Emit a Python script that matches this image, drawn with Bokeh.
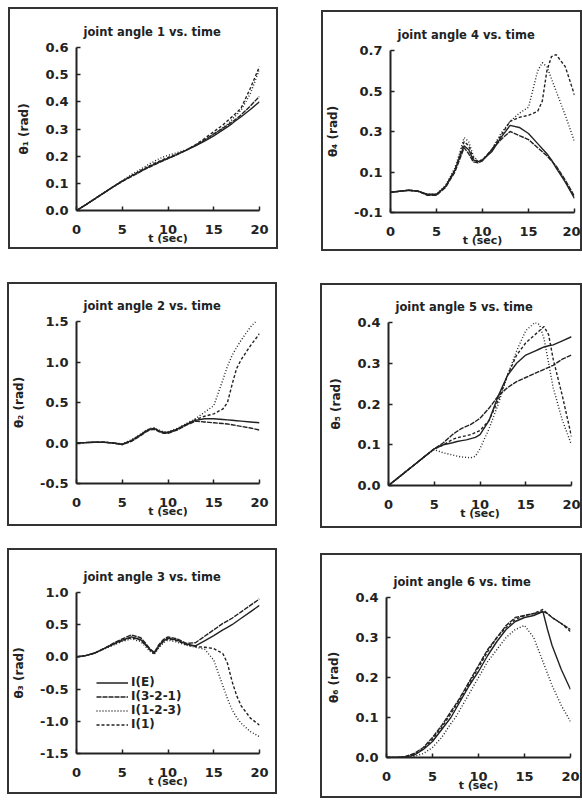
from bokeh.plotting import figure
from bokeh.layouts import row, column
from bokeh.models import Range1d, FixedTicker, NumeralTickFormatter, ColumnDataSource
from bokeh.embed import file_html
from bokeh.resources import INLINE

# ---------------- data ----------------
t = [0, 1, 2, 3, 4, 5, 6, 7, 7.5, 8, 8.5, 9, 9.5, 10, 11, 12, 13, 14, 15, 16, 16.5, 17, 17.5, 18, 19, 20]
series_names = ["I(E)", "I(3-2-1)", "I(1-2-3)", "I(1)"]
x_ticks = [0, 5, 10, 15, 20]

th1_E   = [0, .021, .043, .065, .087, .108, .127, .145, .153, .162, .170, .178, .185, .192, .207, .222, .238, .255, .275, .297, .308, .320, .333, .345, .372, .400]
th1_321 = [0, .021, .043, .065, .087, .107, .125, .143, .152, .160, .168, .176, .184, .191, .206, .222, .240, .260, .282, .303, .314, .326, .338, .352, .385, .420]
th1_123 = [0, .022, .044, .066, .088, .110, .132, .152, .162, .172, .181, .190, .197, .203, .213, .224, .240, .258, .280, .305, .318, .335, .352, .370, .430, .520]
th1_1   = [0, .021, .043, .065, .087, .108, .128, .147, .156, .165, .173, .181, .188, .195, .208, .222, .242, .265, .290, .315, .330, .345, .360, .378, .450, .530]

th2_E   = [0, .005, .01, .01, .0, -.015, .03, .10, .14, .17, .18, .15, .13, .13, .17, .23, .28, .30, .30, .29, .285, .28, .275, .27, .26, .25]
th2_321 = [0, .005, .01, .01, .0, -.02, .02, .09, .13, .16, .17, .14, .12, .12, .16, .22, .27, .26, .25, .24, .235, .225, .215, .205, .185, .16]
th2_123 = [0, .005, .01, .01, .0, -.01, .04, .11, .15, .18, .185, .16, .14, .14, .18, .24, .30, .38, .46, .78, .95, 1.08, 1.18, 1.27, 1.43, 1.55]
th2_1   = [0, .005, .01, .01, .0, -.02, .03, .10, .14, .17, .18, .15, .13, .13, .17, .23, .29, .33, .36, .42, .50, .72, .92, 1.03, 1.20, 1.35]

th3_E   = [0, .02, .06, .13, .20, .26, .31, .27, .20, .12, .06, .17, .25, .29, .26, .20, .17, .25, .33, .42, .46, .50, .55, .60, .70, .80]
th3_321 = [0, .02, .06, .13, .21, .28, .34, .30, .22, .13, .07, .19, .27, .31, .28, .21, .22, .32, .42, .52, .56, .60, .65, .70, .80, .90]
th3_123 = [0, .02, .06, .12, .18, .24, .28, .24, .17, .09, .04, .14, .22, .26, .23, .18, .15, .12, -.05, -.45, -.65, -.82, -.94, -1.03, -1.16, -1.24]
th3_1   = [0, .02, .06, .13, .19, .25, .30, .26, .19, .11, .05, .16, .24, .28, .25, .19, .16, .15, .13, .05, -.10, -.38, -.60, -.76, -.95, -1.06]

th4_E   = [0, .005, .01, .005, -.01, -.01, .03, .11, .17, .23, .21, .16, .15, .16, .20, .27, .33, .32, .29, .24, .215, .19, .16, .12, .05, -.03]
th4_321 = [0, .005, .01, .005, -.015, -.015, .025, .10, .16, .22, .19, .15, .145, .155, .21, .26, .30, .28, .26, .22, .20, .18, .155, .13, .06, -.02]
th4_123 = [0, .005, .01, .005, -.01, -.01, .035, .12, .19, .27, .25, .18, .155, .16, .21, .29, .35, .39, .42, .60, .64, .62, .56, .50, .38, .25]
th4_1   = [0, .005, .01, .005, -.012, -.012, .03, .11, .18, .25, .23, .17, .15, .16, .21, .28, .35, .37, .38, .40, .45, .60, .67, .68, .62, .48]

th5_E   = [0, .018, .036, .054, .072, .09, .10, .105, .108, .11, .112, .115, .118, .125, .16, .22, .27, .30, .32, .33, .335, .34, .343, .345, .355, .365]
th5_321 = [0, .018, .036, .054, .072, .09, .105, .125, .133, .14, .145, .15, .157, .165, .19, .22, .24, .255, .265, .275, .28, .285, .29, .295, .31, .32]
th5_123 = [0, .018, .036, .054, .072, .088, .08, .075, .072, .07, .069, .068, .072, .09, .14, .20, .27, .33, .38, .40, .395, .36, .30, .24, .16, .10]
th5_1   = [0, .018, .036, .054, .072, .09, .10, .113, .117, .12, .122, .125, .13, .135, .16, .21, .27, .32, .35, .37, .38, .39, .37, .31, .22, .12]

th6_E   = [0, 0, .001, .006, .02, .04, .07, .10, .12, .14, .16, .18, .198, .215, .255, .29, .32, .34, .35, .355, .36, .365, .32, .28, .22, .17]
th6_321 = [0, 0, .002, .01, .025, .05, .08, .115, .132, .15, .17, .19, .21, .23, .27, .30, .33, .35, .355, .36, .362, .365, .36, .35, .335, .32]
th6_123 = [0, 0, .0, .003, .01, .025, .05, .085, .10, .12, .14, .16, .18, .20, .24, .27, .30, .32, .33, .30, .27, .24, .21, .18, .13, .09]
th6_1   = [0, 0, .002, .008, .022, .045, .075, .11, .127, .145, .165, .185, .205, .225, .265, .30, .325, .345, .355, .36, .365, .37, .36, .35, .335, .315]

y_ticks_1 = [0.0, 0.1, 0.2, 0.3, 0.4, 0.5, 0.6]
y_ticks_2 = [-0.5, 0.0, 0.5, 1.0, 1.5]
y_ticks_3 = [-1.5, -1.0, -0.5, 0.0, 0.5, 1.0]
y_ticks_4 = [-0.1, 0.1, 0.3, 0.5, 0.7]
y_ticks_5 = [0.0, 0.1, 0.2, 0.3, 0.4]
y_ticks_6 = [0.0, 0.1, 0.2, 0.3, 0.4]

# ---------------- styling ----------------
INK = "#222222"
DASHES = ["solid", "5 1", "1 2", "3 2"]
FONT = "DejaVu Sans"
BW = 2


def panel(title, ylab, ylim, yticks, ys, box, frame, row_top, prev_right, legend=False):
    # box = outer edge of the drawn panel outline; element sits inside it
    bx0, by0, bx1, by1 = box
    fx0, fy0, fx1, fy1 = frame
    ex0, ey0, ex1, ey1 = bx0 + BW, by0 + BW, bx1 - BW, by1 - BW
    W, H = ex1 - ex0, ey1 - ey0
    p = figure(width=W, height=H, title=title,
               x_range=Range1d(0, 20), y_range=Range1d(*ylim),
               output_backend="svg", toolbar_location=None,
               min_border_left=fx0 - ex0, min_border_right=ex1 - fx1,
               min_border_top=fy0 - ey0, min_border_bottom=ey1 - fy1,
               margin=(ey0 - row_top, 0, 0, ex0 - prev_right))
    p.styles = {"outline": f"{BW}px solid #333"}
    p.outline_line_color = None
    p.grid.visible = False
    p.background_fill_color = "white"
    p.border_fill_color = "white"

    p.title.align = "left"
    p.title.offset = 7
    p.title.standoff = 18
    p.title.text_font = FONT
    p.title.text_font_size = "11.5px"
    p.title.text_font_style = "bold"
    p.title.text_color = INK

    src = ColumnDataSource(dict(t=t, a=ys[0], b=ys[1], c=ys[2], d=ys[3]))
    for col, dash, name in zip("abcd", DASHES, series_names):
        kw = dict(legend_label=name) if legend else {}
        p.line("t", col, source=src, line_color=INK, line_width=1.4, line_dash=dash, **kw)

    for ax in (p.xaxis[0], p.yaxis[0]):
        ax.axis_line_color = INK
        ax.axis_line_width = 2
        ax.major_tick_line_color = INK
        ax.major_tick_line_width = 1.5
        ax.major_tick_in = 4
        ax.major_tick_out = 0
        ax.minor_tick_line_color = None
        ax.major_label_text_font = FONT
        ax.major_label_text_font_size = "13px"
        ax.major_label_text_font_style = "bold"
        ax.major_label_text_color = INK
        ax.axis_label_text_font = FONT
        ax.axis_label_text_font_style = "bold"
        ax.axis_label_text_color = INK

    p.xaxis.ticker = FixedTicker(ticks=x_ticks)
    p.xaxis.formatter = NumeralTickFormatter(format="0")
    p.xaxis.axis_label = "t (sec)"
    p.xaxis.axis_label_text_font_size = "11px"
    p.xaxis.major_label_standoff = 14
    p.xaxis.axis_label_standoff = -5

    p.yaxis.ticker = FixedTicker(ticks=yticks)
    p.yaxis.formatter = NumeralTickFormatter(format="0.0")
    p.yaxis.axis_label = ylab
    p.yaxis.axis_label_text_font_size = "12px"
    p.yaxis.major_label_standoff = 8
    p.yaxis.axis_label_standoff = 11

    if legend:
        lg = p.legend[0]
        lg.location = (20, 22)
        lg.margin = 0
        lg.padding = 0
        lg.spacing = -2
        lg.label_height = 13
        lg.glyph_height = 13
        lg.glyph_width = 32
        lg.label_standoff = 3
        lg.background_fill_alpha = 0
        lg.border_line_color = None
        lg.label_text_font = FONT
        lg.label_text_font_size = "12px"
        lg.label_text_font_style = "bold"
        lg.label_text_color = INK
    return p


# row 1 (element top edge reference = 0)
box1, box2 = (8, 7, 278, 249), (321, 10, 582, 251)
p1 = panel("joint angle 1 vs. time", "θ₁ (rad)", (0, 0.6), y_ticks_1,
           [th1_E, th1_321, th1_123, th1_1], box1, (76, 47, 259, 211), 0, 0)
p2 = panel("joint angle 4 vs. time", "θ₄ (rad)", (-0.1, 0.7), y_ticks_4,
           [th4_E, th4_321, th4_123, th4_1], box2, (388, 48, 574, 213), 0, box1[2] - BW)
r1 = max(box1[3], box2[3]) - BW
box3, box4 = (7, 282, 277, 526), (320, 283, 582, 528)
p3 = panel("joint angle 2 vs. time", "θ₂ (rad)", (-0.5, 1.5), y_ticks_2,
           [th2_E, th2_321, th2_123, th2_1], box3, (76, 318, 259, 483), r1, 0)
p4 = panel("joint angle 5 vs. time", "θ₅ (rad)", (0, 0.4), y_ticks_5,
           [th5_E, th5_321, th5_123, th5_1], box4, (388, 322, 571, 487), r1, box3[2] - BW)
r2 = max(box3[3], box4[3]) - BW
box5, box6 = (7, 548, 277, 794), (320, 553, 582, 798)
p5 = panel("joint angle 3 vs. time", "θ₃ (rad)", (-1.5, 1.0), y_ticks_3,
           [th3_E, th3_321, th3_123, th3_1], box5, (76, 592, 259, 754), r2, 0, legend=True)
p6 = panel("joint angle 6 vs. time", "θ₆ (rad)", (0, 0.4), y_ticks_6,
           [th6_E, th6_321, th6_123, th6_1], box6, (386, 592, 570, 757), r2, box5[2] - BW)

layout = column(row(p1, p2), row(p3, p4), row(p5, p6))
open("out.html", "w").write(file_html(layout, INLINE))
